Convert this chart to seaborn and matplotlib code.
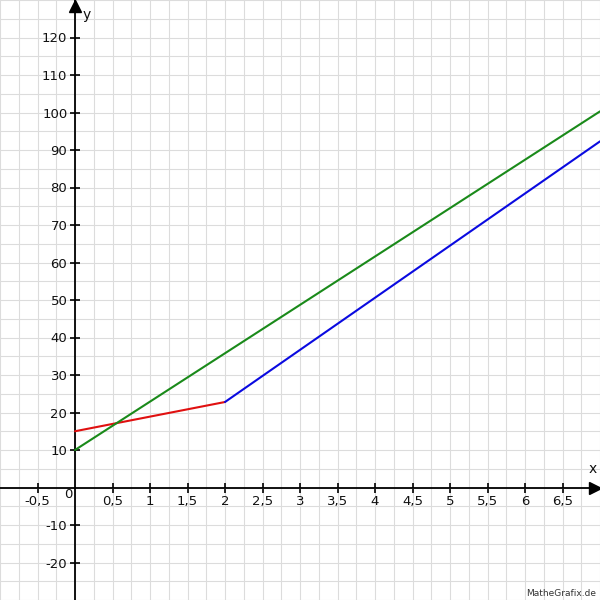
import pandas as pd
import seaborn as sns
import matplotlib.pyplot as plt
from matplotlib.ticker import MultipleLocator, FixedLocator, FuncFormatter

# piecewise lines
red_x = [0, 2]
red_y = [15, 22.8]
blue_x = [2, 7]
blue_y = [22.8, 92.3]
green_x = [0, 7]
green_y = [10, 100.3]

x_ticks = [-0.5, 0.5, 1, 1.5, 2, 2.5, 3, 3.5, 4, 4.5, 5, 5.5, 6, 6.5]
y_ticks = [-20, -10, 10, 20, 30, 40, 50, 60, 70, 80, 90, 100, 110, 120]

df = pd.concat([
    pd.DataFrame({'x': red_x, 'y': red_y, 'line': 'red'}),
    pd.DataFrame({'x': blue_x, 'y': blue_y, 'line': 'blue'}),
    pd.DataFrame({'x': green_x, 'y': green_y, 'line': 'green'}),
])

sns.set_style("white")
plt.rcParams['font.family'] = ['DejaVu Sans']

fig = plt.figure(figsize=(6, 6), dpi=100)
ax = fig.add_axes([0, 0, 1, 1])

sns.lineplot(data=df, x='x', y='y', hue='line', units='line', estimator=None, sort=False,
             palette={'red': '#e01010', 'blue': '#0a0ae0', 'green': '#1a8a1a'},
             linewidth=1.5, legend=False, ax=ax, zorder=3)

ax.set_xlim(-1, 7)
ax.set_ylim(-30, 130)

# grid every 0.25 in x and 5 in y
ax.xaxis.set_minor_locator(MultipleLocator(0.25))
ax.yaxis.set_minor_locator(MultipleLocator(5))
ax.xaxis.set_major_locator(FixedLocator(x_ticks))
ax.yaxis.set_major_locator(FixedLocator(y_ticks))
ax.grid(which='both', color='#dcdcdc', linewidth=0.8, zorder=0)
ax.set_axisbelow(True)

comma = FuncFormatter(lambda v, p: f'{v:g}'.replace('.', ','))
ax.xaxis.set_major_formatter(comma)
ax.yaxis.set_major_formatter(comma)

for s in ['top', 'right']:
    ax.spines[s].set_visible(False)
ax.spines['left'].set_position(('data', 0))
ax.spines['bottom'].set_position(('data', 0))
for s in ['left', 'bottom']:
    ax.spines[s].set_linewidth(1.3)
    ax.spines[s].set_color('black')
    ax.spines[s].set_zorder(2)

ax.tick_params(which='major', bottom=True, left=True, direction='inout', length=7, width=1.2,
               labelsize=9.5, color='black', labelcolor='#111111')
ax.tick_params(which='minor', bottom=False, left=False, length=0)
ax.tick_params(axis='x', pad=2)
ax.tick_params(axis='y', pad=2)
ax.set_xlabel('')
ax.set_ylabel('')

# arrow heads and axis names
ax.plot(6.93, 0, '>', color='black', markersize=8, clip_on=False, zorder=4)
ax.plot(0, 128.5, '^', color='black', markersize=8, clip_on=False, zorder=4)
ax.text(6.9, 5, 'x', fontsize=10, ha='center', va='center', color='#111111')
ax.text(0.15, 126, 'y', fontsize=10, ha='center', va='center', color='#111111')
ax.text(-0.09, -2, '0', fontsize=9.5, ha='center', va='center', color='#111111')
ax.text(6.95, -28.3, 'MatheGrafix.de', fontsize=6.5, color='#333333', ha='right', va='center')

fig.savefig('out.png', dpi=100)
